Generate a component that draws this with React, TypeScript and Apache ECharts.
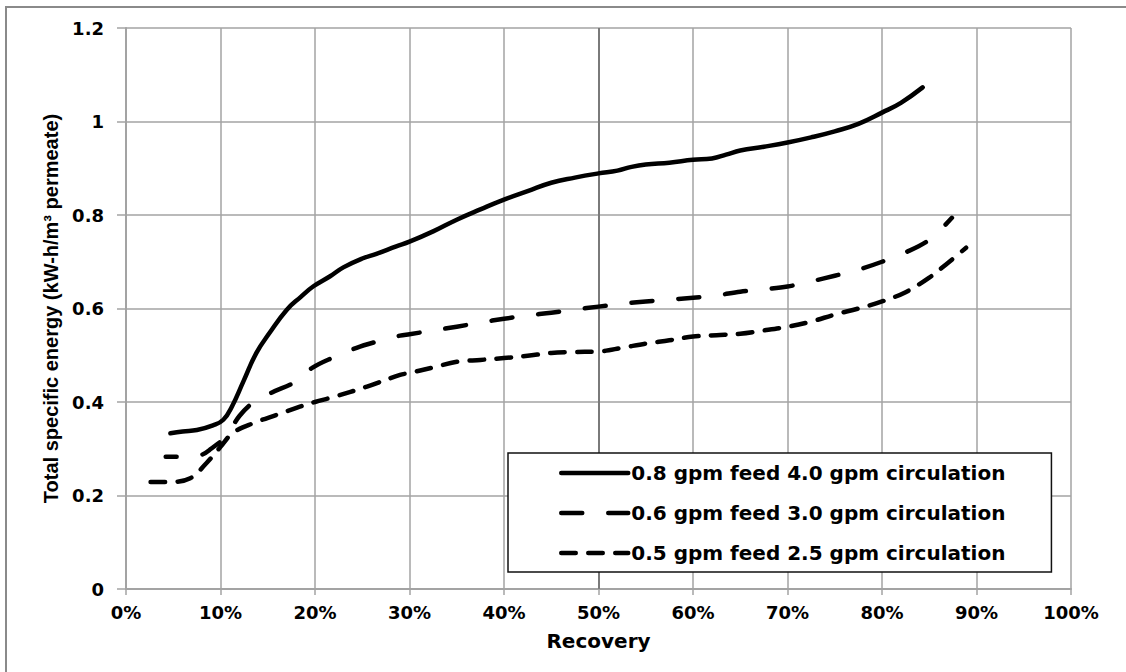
import React, { useEffect, useRef } from "react";
import * as echarts from "echarts";

const seriesNames = [
  "0.8 gpm feed 4.0 gpm circulation",
  "0.6 gpm feed 3.0 gpm circulation",
  "0.5 gpm feed 2.5 gpm circulation",
];

const xTitle = "Recovery";
const yTitle = "Total specific energy (kW-h/m\u00B3 permeate)";

const xTicks = [0, 10, 20, 30, 40, 50, 60, 70, 80, 90, 100];
const yTicks = [0, 0.2, 0.4, 0.6, 0.8, 1, 1.2];

// 0.8 gpm feed 4.0 gpm circulation (solid)
const feed08Recovery = [4.7, 6, 7.5, 9.2, 10.3, 11.2, 12.4, 13.8, 15.2, 17, 18.5, 19.8, 21.6, 23, 25, 26.5, 28.6, 30, 32.5, 35, 37.5, 40, 42.5, 45, 47.5, 50, 52, 53.5, 55, 57.5, 60, 62, 63.5, 65, 67.5, 70, 72.5, 75, 77.5, 80, 82, 84.3];
const feed08Energy = [0.333, 0.337, 0.34, 0.35, 0.362, 0.39, 0.443, 0.505, 0.548, 0.597, 0.625, 0.647, 0.669, 0.688, 0.707, 0.717, 0.733, 0.743, 0.765, 0.79, 0.812, 0.833, 0.851, 0.869, 0.88, 0.889, 0.895, 0.903, 0.908, 0.912, 0.918, 0.921, 0.929, 0.938, 0.946, 0.955, 0.966, 0.979, 0.995, 1.019, 1.04, 1.073];

// 0.6 gpm feed 3.0 gpm circulation (long dashes)
const feed06Recovery = [4.2, 6.5, 8, 9, 10.5, 12, 13.4, 15.4, 17.9, 19.7, 21.9, 24.4, 26.5, 29, 30, 32.5, 35, 37.5, 40, 42.5, 45, 47.5, 50, 52.5, 55, 57.5, 60, 62.5, 65, 67.5, 70, 72.5, 75, 77.5, 80, 82.5, 85, 87.4];
const feed06Energy = [0.283, 0.283, 0.287, 0.3, 0.325, 0.37, 0.398, 0.42, 0.443, 0.473, 0.495, 0.516, 0.529, 0.542, 0.545, 0.553, 0.561, 0.57, 0.578, 0.585, 0.591, 0.598, 0.604, 0.61, 0.615, 0.619, 0.623, 0.628, 0.636, 0.641, 0.647, 0.658, 0.67, 0.683, 0.7, 0.72, 0.747, 0.794];

// 0.5 gpm feed 2.5 gpm circulation (short dashes)
const feed05Recovery = [2.6, 4.7, 6.8, 8.5, 10, 11.3, 13.5, 16, 18.4, 20, 22, 25.5, 29, 30, 32.5, 35, 37.5, 40, 42.5, 45, 47.5, 50, 52.5, 55, 57.5, 60, 62.5, 65, 67.5, 70, 72.5, 75, 77.5, 80, 82.5, 85, 87, 88.9];
const feed05Energy = [0.229, 0.229, 0.237, 0.269, 0.304, 0.334, 0.355, 0.373, 0.39, 0.4, 0.411, 0.433, 0.458, 0.462, 0.474, 0.486, 0.49, 0.494, 0.499, 0.505, 0.507, 0.508, 0.516, 0.525, 0.532, 0.54, 0.543, 0.546, 0.553, 0.561, 0.572, 0.587, 0.6, 0.615, 0.635, 0.666, 0.698, 0.73];

const zip = (xs: number[], ys: number[]) => xs.map((x, i) => [x, ys[i]]);

const tickFont = {
  fontFamily: "DejaVu Sans",
  fontWeight: "bold" as const,
  fontSize: 18,
  color: "#000",
};

export default function App() {
  const ref = useRef<HTMLDivElement>(null);

  useEffect(() => {
    if (!ref.current) return;
    const chart = echarts.init(ref.current, null, { renderer: "svg" });
    const gridColor = "#a3a3a3";
    const lineW = 4.5;
    chart.setOption({
      animation: false,
      backgroundColor: "#fff",
      grid: { left: 126, right: 55, top: 28, bottom: 83, containLabel: false },
      graphic: [
        {
          type: "rect",
          silent: true,
          shape: { x: 6, y: 7, width: 1200, height: 700 },
          style: { fill: "none", stroke: "#8a8a8a", lineWidth: 2 },
          z: 0,
        },
      ],
      legend: {
        orient: "vertical",
        left: 508,
        top: 453,
        padding: [10, 46, 9, 51],
        itemWidth: 67,
        itemHeight: 20,
        itemGap: 20,
        borderColor: "#111",
        borderWidth: 1.5,
        borderRadius: 0,
        backgroundColor: "#fff",
        data: seriesNames,
        lineStyle: { width: lineW, dashOffset: 0 },
        itemStyle: { color: "rgba(0,0,0,0)", borderWidth: 0, opacity: 0 },
        textStyle: {
          fontFamily: "DejaVu Sans",
          fontWeight: "bold",
          fontSize: 20,
          color: "#000",
          padding: [0, 0, 0, -2],
        },
      },
      xAxis: {
        type: "value",
        min: xTicks[0],
        max: xTicks[xTicks.length - 1],
        interval: 10,
        name: xTitle,
        nameLocation: "middle",
        nameGap: 42,
        nameTextStyle: {
          fontFamily: "DejaVu Sans",
          fontWeight: "bold",
          fontSize: 20,
          color: "#000",
        },
        axisLine: { show: true, lineStyle: { color: gridColor, width: 2 } },
        axisTick: { show: true, length: 6, lineStyle: { color: gridColor, width: 1.5 } },
        axisLabel: { ...tickFont, margin: 14, formatter: "{value}%" },
        splitLine: { show: true, lineStyle: { color: gridColor, width: 1.5 } },
      },
      yAxis: {
        type: "value",
        min: yTicks[0],
        max: yTicks[yTicks.length - 1],
        interval: 0.2,
        name: yTitle,
        nameLocation: "middle",
        nameRotate: 90,
        nameGap: 63,
        nameTextStyle: {
          fontFamily: "Liberation Sans",
          fontWeight: "bold",
          fontSize: 20,
          color: "#000",
        },
        axisLine: { show: true, lineStyle: { color: gridColor, width: 2 } },
        axisTick: { show: true, length: 9, lineStyle: { color: gridColor, width: 1.5 } },
        axisLabel: {
          ...tickFont,
          margin: 22,
          formatter: (v: number) => String(Math.round(v * 10) / 10),
        },
        splitLine: { show: true, lineStyle: { color: gridColor, width: 1.5 } },
      },
      series: [
        {
          name: seriesNames[0],
          type: "line",
          data: zip(feed08Recovery, feed08Energy),
          smooth: 0.45,
          symbol: "none",
          lineStyle: { color: "#000", width: lineW, type: "solid", cap: "round", join: "round" },
          itemStyle: { color: "#000" },
          markLine: {
            silent: true,
            symbol: "none",
            z: 1,
            label: { show: false },
            lineStyle: { color: "#7a7a7a", width: 2, type: "solid" },
            data: [{ xAxis: 50 }],
          },
        },
        {
          name: seriesNames[1],
          type: "line",
          data: zip(feed06Recovery, feed06Energy),
          smooth: 0.35,
          symbol: "none",
          lineStyle: { color: "#000", width: lineW, type: [21, 26], dashOffset: 10, cap: "round", join: "round" },
          itemStyle: { color: "#000" },
        },
        {
          name: seriesNames[2],
          type: "line",
          data: zip(feed05Recovery, feed05Energy),
          smooth: 0.35,
          symbol: "none",
          lineStyle: { color: "#000", width: lineW, type: [14.5, 12.5], cap: "round", join: "round" },
          itemStyle: { color: "#000" },
        },
      ],
    });
    return () => chart.dispose();
  }, []);

  return (
    <div
      ref={ref}
      style={{ position: "fixed", left: 0, top: 0, width: 1126, height: 672, background: "#fff" }}
    />
  );
}
